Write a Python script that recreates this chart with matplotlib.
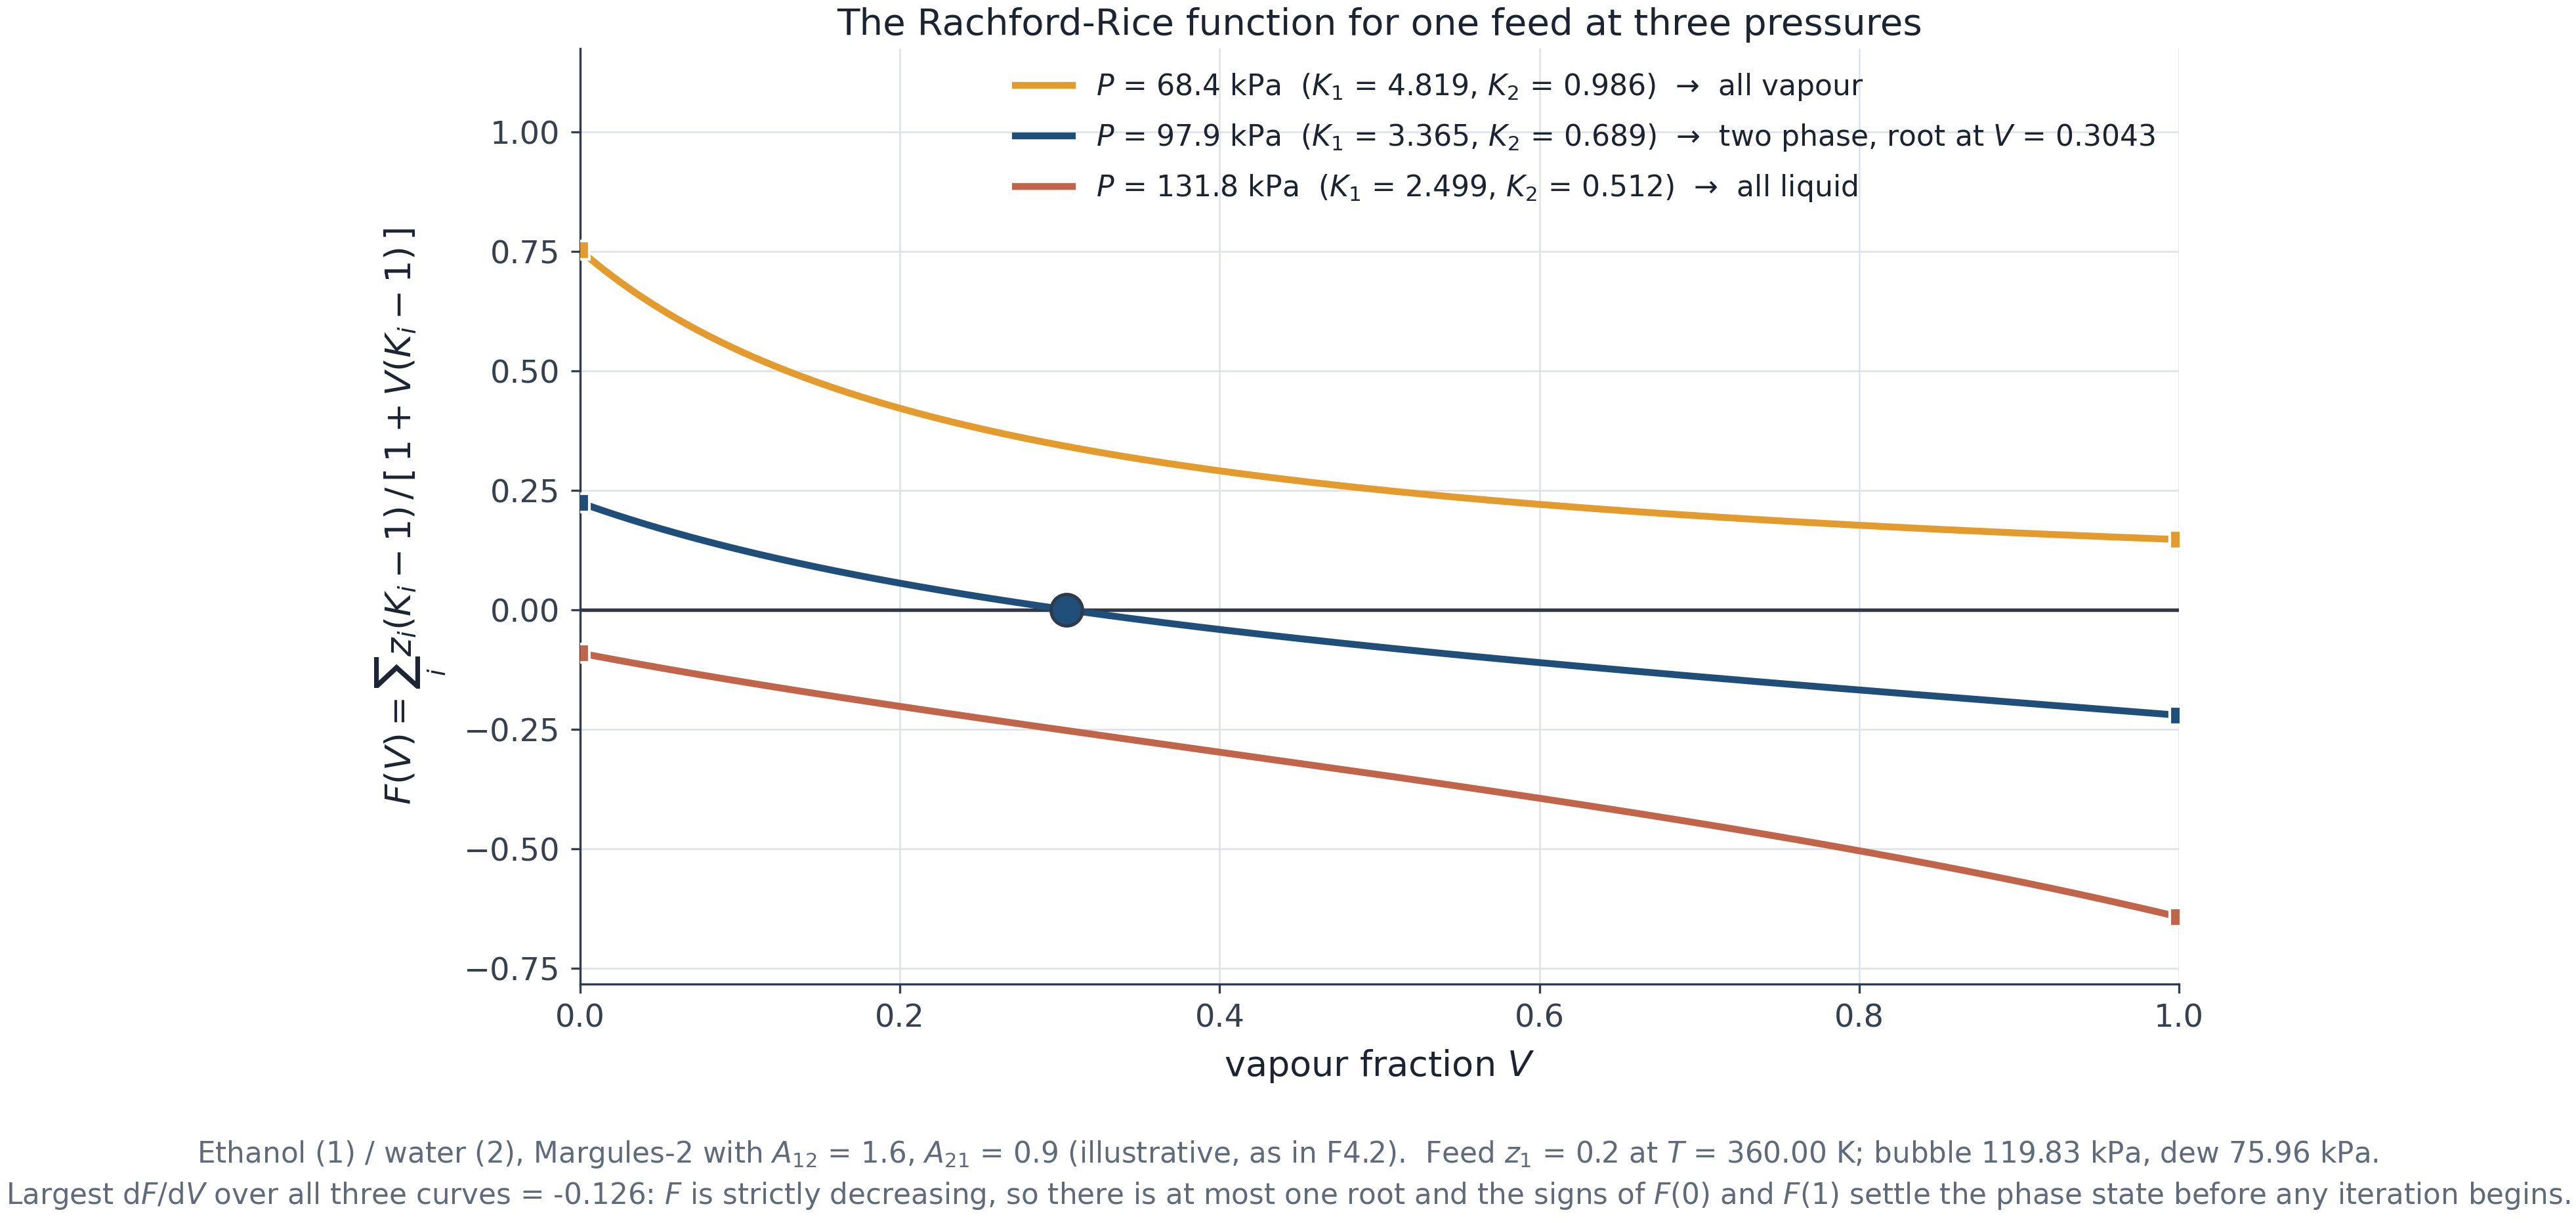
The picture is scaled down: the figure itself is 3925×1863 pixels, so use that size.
import numpy as np
import matplotlib
matplotlib.use("Agg")
import matplotlib.pyplot as plt

# ---- data ----
z1 = 0.2
pressures_kPa = [68.4, 97.9, 131.8]
K1_values = [4.819, 3.365, 2.499]
K2_values = [0.986, 0.689, 0.512]
outcomes = ["all vapour", "two phase, root at $V$ = 0.3043", "all liquid"]
root_V = [0.3043]
root_F = [0.0]
x_ticks = [0.0, 0.2, 0.4, 0.6, 0.8, 1.0]
y_ticks = [-0.75, -0.50, -0.25, 0.00, 0.25, 0.50, 0.75, 1.00]

colors = ["#e49b2e", "#1f4e79", "#c0654a"]
ink = "#1b2430"
tick_ink = "#36414f"
spine_c = "#2f3b4a"
grid_c = "#dde1e6"
cap_c = "#5f6b7a"

plt.rcParams["font.family"] = ["DejaVu Sans"]
plt.rcParams["mathtext.fontset"] = "dejavusans"

fig = plt.figure(figsize=(3925 / 300, 1863 / 300), dpi=300)
ax = fig.add_axes([884 / 3925, 1 - 1499 / 1863, (3320 - 884) / 3925, (1499 - 74) / 1863])

V = np.linspace(0.0, 1.0, 600)
z = np.array([z1, 1 - z1])
for P, k1, k2, out, c in zip(pressures_kPa, K1_values, K2_values, outcomes, colors):
    K = np.array([k1, k2])
    F = (z[None, :] * (K[None, :] - 1) / (1 + V[:, None] * (K[None, :] - 1))).sum(axis=1)
    lab = rf"$P$ = {P:.1f} kPa  ($K_1$ = {k1:.3f}, $K_2$ = {k2:.3f})  →  {out}"
    ax.plot(V, F, color=c, lw=2.5, label=lab, zorder=3, solid_capstyle="butt")
    ax.plot([V[0], V[-1]], [F[0], F[-1]], ls="none", marker="s", ms=6.5, mfc=c,
            mec="white", mew=1.0, zorder=4)

ax.axhline(0, color=spine_c, lw=1.3, zorder=2.6)
ax.plot(root_V, root_F, ls="none", marker="o", ms=11.5, mfc=colors[1], mec=spine_c,
        mew=1.2, zorder=5)

ax.set_xlim(0, 1)
ax.set_ylim(-0.783, 1.1745)
ax.set_xticks(x_ticks)
ax.set_yticks(y_ticks)
ax.set_xticklabels([f"{t:.1f}" for t in x_ticks])
ax.set_yticklabels([f"{t:.2f}".replace("-", "\u2212") for t in y_ticks])
ax.tick_params(axis="both", labelsize=11.5, colors=tick_ink, length=3.4, width=0.8, pad=4)
ax.tick_params(axis="x", pad=3.5)
for s in ["top", "right"]:
    ax.spines[s].set_visible(False)
for s in ["left", "bottom"]:
    ax.spines[s].set_color(spine_c)
    ax.spines[s].set_linewidth(0.8)
ax.grid(True, color=grid_c, lw=0.6, zorder=0)
ax.set_axisbelow(True)

ax.set_title("The Rachford-Rice function for one feed at three pressures",
             fontsize=13.5, color=ink, pad=5)
ax.set_xlabel(r"vapour fraction $V$", fontsize=13, color=ink, labelpad=5)
ax.set_ylabel(r"$F(V) = \sum_i z_i(K_i - 1)\,/\,[\,1 + V(K_i - 1)\,]$",
              fontsize=13, color=ink, labelpad=6)

leg = ax.legend(loc="upper right", frameon=False, fontsize=10.6, handlelength=2.2,
                handletextpad=0.7, labelspacing=0.68, borderaxespad=0.4)
for t in leg.get_texts():
    t.set_color(ink)

caption = ("Ethanol (1) / water (2), Margules-2 with $A_{12}$ = 1.6, $A_{21}$ = 0.9 "
           "(illustrative, as in F4.2).  Feed $z_1$ = 0.2 at $T$ = 360.00 K; bubble 119.83 kPa, dew 75.96 kPa.\n"
           "Largest d$F$/d$V$ over all three curves = -0.126: $F$ is strictly decreasing, so there is at most "
           "one root and the signs of $F(0)$ and $F(1)$ settle the phase state before any iteration begins.")
fig.text(0.5, 1 - 1790 / 1863, caption, ha="center", va="center", fontsize=10.5,
         color=cap_c, linespacing=1.45)

fig.savefig("out.png", dpi=300)
